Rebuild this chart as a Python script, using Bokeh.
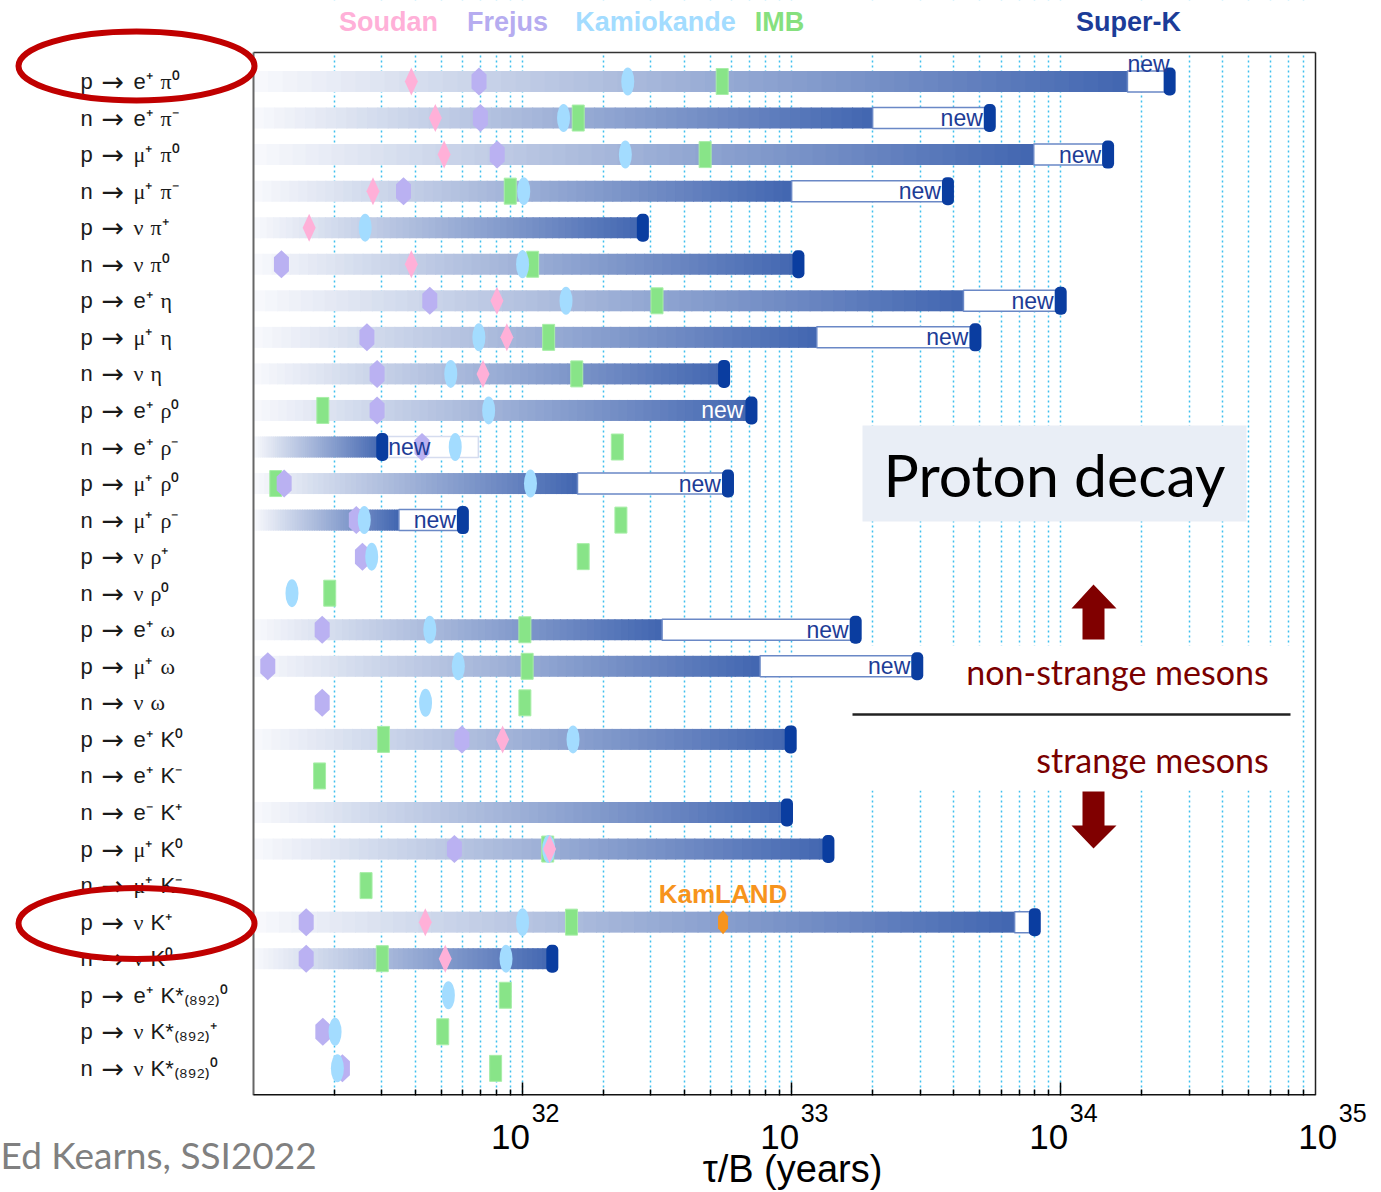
import math
import numpy as np
from bokeh.plotting import figure
from bokeh.models import Range1d, FixedTicker, LogAxis
from bokeh.core.properties import value
from bokeh.embed import file_html
from bokeh.resources import INLINE

# ---------------- data (lifetime / branching ratio, years) ----------------
CHANNELS = [
    "p → e⁺ π⁰", "n → e⁺ π⁻", "p → μ⁺ π⁰", "n → μ⁺ π⁻", "p → ν π⁺", "n → ν π⁰",
    "p → e⁺ η", "p → μ⁺ η", "n → ν η", "p → e⁺ ρ⁰", "n → e⁺ ρ⁻", "p → μ⁺ ρ⁰",
    "n → μ⁺ ρ⁻", "p → ν ρ⁺", "n → ν ρ⁰", "p → e⁺ ω", "p → μ⁺ ω", "n → ν ω",
    "p → e⁺ K⁰", "n → e⁺ K⁻", "n → e⁻ K⁺", "p → μ⁺ K⁰", "n → μ⁺ K⁻", "p → ν K⁺",
    "n → ν K⁰", "p → e⁺ K*₍₈₉₂₎⁰", "p → ν K*₍₈₉₂₎⁺", "n → ν K*₍₈₉₂₎⁰",
]
SOUDAN = [3.86e31, 4.74e31, 5.11e31, 2.78e31, 1.61e31, 3.86e31, 8.03e31, 8.74e31, 7.13e31,
          None, None, None, None, None, None, None, None, None, 8.43e31, None, None,
          1.26e32, None, 4.35e31, 5.16e31, None, None, None]
FREJUS = [6.89e31, 6.97e31, 8.05e31, 3.61e31, None, 1.27e31, 4.52e31, 2.64e31, 2.88e31,
          2.88e31, 4.23e31, 1.30e31, 2.41e31, 2.54e31, None, 1.80e31, 1.13e31, 1.80e31,
          5.95e31, None, None, 5.58e31, None, 1.57e31, 1.57e31, None, 1.81e31, 2.14e31]
KAMIOKANDE = [2.46e32, 1.42e32, 2.41e32, 1.01e32, 2.60e31, 1.00e32, 1.45e32, 6.88e31, 5.41e31,
              7.48e31, 5.62e31, 1.07e32, 2.58e31, 2.75e31, 1.39e31, 4.52e31, 5.77e31, 4.36e31,
              1.54e32, None, None, 1.25e32, None, 1.00e32, 8.68e31, 5.30e31, 2.01e31, 2.05e31]
IMB = [5.52e32, 1.61e32, 4.77e32, 9.0e31, None, 1.09e32, 3.16e32, 1.25e32, 1.59e32,
       1.81e31, 2.25e32, 1.21e31, 2.32e32, 1.68e32, 1.92e31, 1.02e32, 1.04e32, 1.02e32,
       3.04e31, 1.76e31, None, 1.24e32, 2.62e31, 1.52e32, 3.01e31, 8.63e31, 5.05e31, 7.94e31]
SK_PREVIOUS = [1.77e34, 2.0e33, 7.94e33, 1.0e33, None, None, 4.35e33, 1.24e33, None,
               None, 6.85e31, 1.60e32, 3.47e31, None, None, 3.30e32, 7.63e32, None,
               None, None, None, None, None, 6.74e33, None, None, None, None]
SK_LIMIT = [2.54e34, 5.45e33, 1.50e34, 3.81e33, 2.80e32, 1.06e33, 1.0e34, 4.82e33, 5.61e32,
            7.09e32, 3.01e31, 5.80e32, 6.0e31, None, None, 1.73e33, 2.93e33, None,
            9.92e32, None, 9.61e32, 1.37e33, None, 8.01e33, 1.29e32, None, None, None]
KAMLAND_CHANNEL = "p → ν K⁺"
KAMLAND_LIMIT = 5.56e32

MAJOR_TICKS = [1e32, 1e33, 1e34]
LABEL_DECADES = [1e32, 1e33, 1e34, 1e35]
TICK_BASE = "10"
TICK_EXPONENTS = ["32", "33", "34", "35"]
X_TITLE = "τ/B (years)"
EXPERIMENTS = ["Soudan", "Frejus", "Kamiokande", "IMB", "Super-K"]
CREDIT = "Ed Kearns, SSI2022"

# ---------------- layout helpers (pixel -> data) ----------------
W, H = 1381, 1192
PL, PR, PT, PB = 253, 1315, 52, 1095          # drawn plot box
X_LEFT, X_RIGHT = 1e31, 8.85e34               # values at the box edges
ROW0, ROWPX = 81.0, 36.55
DEC = (PR - PL) / math.log10(X_RIGHT / X_LEFT)


def X(px):
    return float(10 ** (math.log10(X_LEFT) + (px - PL) / DEC))


def Y(py):
    return (py - ROW0) / ROWPX


def shift(v, dpx):
    return float(v * 10 ** (dpx / DEC))


p = figure(width=W, height=H, x_axis_type="log",
           x_range=Range1d(X(0), X(W)), y_range=Range1d(Y(PB), Y(0)),
           output_backend="svg", toolbar_location=None,
           min_border_left=0, min_border_right=0, min_border_top=0,
           min_border_bottom=H - PB)
p.background_fill_color = "white"
p.border_fill_color = "white"
p.outline_line_color = None
p.yaxis.visible = False
p.ygrid.visible = False

minor = [float(k * 10.0 ** d) for d in range(31, 35) for k in range(2, 10) if k * 10.0 ** d < X_RIGHT]

# axis 0: tick marks on the bottom edge
ax = p.xaxis[0]
ax.ticker = FixedTicker(ticks=MAJOR_TICKS, minor_ticks=minor)
ax.axis_line_color = None
ax.major_label_overrides = {t: " " for t in MAJOR_TICKS}
ax.major_label_text_font_size = "1px"
ax.major_label_text_alpha = 0
ax.major_label_standoff = 0
ax.major_tick_in = 13
ax.major_tick_out = 0
ax.minor_tick_in = 6
ax.minor_tick_out = 0
ax.major_tick_line_color = "black"
ax.minor_tick_line_color = "black"
ax.major_tick_line_width = 1.5
ax.minor_tick_line_width = 1.5


def label_axis(ticks, labels, font, size, color, standoff):
    a = LogAxis(ticker=FixedTicker(ticks=ticks, minor_ticks=[]),
                major_label_overrides={t: s for t, s in zip(ticks, labels)},
                major_tick_line_color=None, minor_tick_line_color=None,
                axis_line_color=None, major_tick_out=0, minor_tick_out=0,
                major_tick_in=0, minor_tick_in=0,
                major_label_standoff=standoff, major_label_text_font=font,
                major_label_text_font_size=size, major_label_text_color=color)
    p.add_layout(a, "below")
    return a


# exponents (superscripts), bases "10", axis title, credit line
label_axis([shift(d, 23) for d in LABEL_DECADES], TICK_EXPONENTS, "Liberation Sans", "25px", "black", 8)
label_axis([shift(d, -12) for d in LABEL_DECADES], [TICK_BASE] * 4, "Liberation Sans", "35px", "black", 0)
label_axis([X(792)], [X_TITLE], "Liberation Sans", "38px", "black", -4)
label_axis([X(158)], [CREDIT], "Lato", "37px", "#808080", -61)

g = p.xgrid[0]
g.ticker = FixedTicker(ticks=MAJOR_TICKS, minor_ticks=minor)
g.grid_line_color = "#3fc0ee"
g.grid_line_dash = "2 3"
g.grid_line_width = 1.5
g.minor_grid_line_color = "#3fc0ee"
g.minor_grid_line_dash = "2 3"
g.minor_grid_line_width = 1.5

# ---------------- background decorations ----------------
p.quad(left=[X(0)], right=[X(W)], top=[Y(0)], bottom=[Y(PT)], fill_color="white", line_color=None)
p.quad(left=[X(852)], right=[X(1292)], top=[Y(645)], bottom=[Y(790)],
       fill_color="white", line_color=None)
p.quad(left=[X(862)], right=[X(1246)], top=[Y(425)], bottom=[Y(521)],
       fill_color="#e9eef6", line_color=None)

# ---------------- Super-K gradient bars ----------------
HALF = 10.5 / ROWPX
NSEG = 60
C0 = np.array([249, 250, 253])
C1 = np.array([66, 102, 177])
sl, sr, st, sb, sc = [], [], [], [], []
for i, (lim, prev) in enumerate(zip(SK_LIMIT, SK_PREVIOUS)):
    if lim is None:
        continue
    end = lim if prev is None else min(lim, prev)
    edges = np.linspace(math.log10(X_LEFT), math.log10(end), NSEG + 1)
    for k in range(NSEG):
        t = (k + 0.5) / NSEG
        c = (C0 + (C1 - C0) * t).astype(int)
        sl.append(float(10 ** edges[k]))
        sr.append(float(10 ** (edges[k + 1] + (0.004 if k < NSEG - 1 else 0))))
        st.append(i - HALF)
        sb.append(i + HALF)
        sc.append("#%02x%02x%02x" % tuple(c))
p.quad(left=sl, right=sr, top=st, bottom=sb, fill_color=sc, line_color=None)

# boxes for the improved ("new") limits
bl, br, bt, bb, bc = [], [], [], [], []
for i, (lim, prev) in enumerate(zip(SK_LIMIT, SK_PREVIOUS)):
    if lim is None or prev is None:
        continue
    bl.append(min(lim, prev)); br.append(max(lim, prev))
    bt.append(i - HALF); bb.append(i + HALF)
    bc.append("#d5dcef" if prev > lim else "#6a88c6")
p.quad(left=bl, right=br, top=bt, bottom=bb, fill_color="white", line_color=bc, line_width=1.5)

# ---------------- markers ----------------
def poly(vals, verts):
    xs, ys = [], []
    for i, v in enumerate(vals):
        if v is None:
            continue
        xs.append([shift(v, dx) for dx, dy in verts])
        ys.append([i + dy / ROWPX for dx, dy in verts])
    return xs, ys


def pts(vals):
    idx = [i for i, v in enumerate(vals) if v is not None]
    return [vals[i] for i in idx], idx


x, y = pts(IMB)
p.rect(x=x, y=y, width=12, height=26, width_units="screen", height_units="screen",
       fill_color="#88e488", line_color="#a8eea8", line_width=1)

HEX = [(0, -14), (7.5, -7), (7.5, 7), (0, 14), (-7.5, 7), (-7.5, -7)]
xs, ys = poly(FREJUS, HEX)
p.patches(xs=xs, ys=ys, fill_color="#bab1f2", line_color=None)

x, y = pts(KAMIOKANDE)
p.ellipse(x=x, y=y, width=13, height=28, width_units="screen", height_units="screen",
          fill_color="#a3dcff", line_color=None)

DIA = [(0, -14), (6.5, 0), (0, 14), (-6.5, 0)]
xs, ys = poly(SOUDAN, DIA)
p.patches(xs=xs, ys=ys, fill_color="#ffb0d8", line_color=None)

kl_row = CHANNELS.index(KAMLAND_CHANNEL)
KHEX = [(0, -12), (5, -6), (5, 6), (0, 12), (-5, 6), (-5, -6)]
kxs, kys = poly([KAMLAND_LIMIT if i == kl_row else None for i in range(len(CHANNELS))], KHEX)
p.patches(xs=kxs, ys=kys, fill_color="#f7941d", line_color=None)
p.text(x=[KAMLAND_LIMIT], y=[kl_row], text=["KamLAND"], text_font=value("Liberation Sans"),
       text_font_style="bold", text_font_size="26px", text_color="#f7941d",
       text_align="center", text_baseline="middle", y_offset=-28)

# Super-K caps
x, y = pts(SK_LIMIT)
p.rect(x=x, y=y, width=12, height=28, width_units="screen", height_units="screen",
       fill_color="#0a3da0", line_color=None, border_radius=5)

NEW_STYLE = {0: "above", 1: "in", 2: "in", 3: "in", 6: "in", 7: "in", 9: "onbar",
             10: "after", 11: "in", 12: "in", 15: "in", 16: "in"}
for i, style in NEW_STYLE.items():
    lim, prev = SK_LIMIT[i], SK_PREVIOUS[i]
    kw = dict(text=["new"], text_font=value("Liberation Sans"), text_font_size="23px",
              text_baseline="middle", text_color="#1d3c96")
    if style == "above":
        p.text(x=[math.sqrt(lim * prev)], y=[i], text_align="center", y_offset=-18, **kw)
    elif style == "in":
        p.text(x=[lim], y=[i], text_align="right", x_offset=-7, **kw)
    elif style == "onbar":
        kw["text_color"] = "white"
        p.text(x=[lim], y=[i], text_align="right", x_offset=-8, **kw)
    elif style == "after":
        p.text(x=[lim], y=[i], text_align="left", x_offset=6, **kw)

# ---------------- annotation texts ----------------
p.text(x=[X(1054)], y=[Y(474)], text=["Proton decay"], text_font=value("Lato"),
       text_font_size="59px", text_color="black", text_align="center", text_baseline="middle")
p.text(x=[X(1117)], y=[Y(671)], text=["non-strange mesons"], text_font=value("Lato"),
       text_font_size="34px", text_color="#7a0000", text_align="center", text_baseline="middle")
p.text(x=[X(1152)], y=[Y(759)], text=["strange mesons"], text_font=value("Lato"),
       text_font_size="34px", text_color="#7a0000", text_align="center", text_baseline="middle")
p.line(x=[X(852), X(1290)], y=[Y(714), Y(714)], line_color="#222222", line_width=2.5)

UP = [(1093, 584), (1116, 608), (1104, 608), (1104, 639), (1082, 639), (1082, 608), (1071, 608)]
DN = [(1093, 848), (1116, 825), (1104, 825), (1104, 791), (1082, 791), (1082, 825), (1071, 825)]
p.patches(xs=[[X(a) for a, b in UP], [X(a) for a, b in DN]],
          ys=[[Y(b) for a, b in UP], [Y(b) for a, b in DN]],
          fill_color="#800000", line_color=None)

# plot box
p.multi_line(xs=[[X(PL), X(PR)], [X(PL), X(PL)], [X(PR), X(PR)], [X(PL), X(PR)]],
             ys=[[Y(PT), Y(PT)], [Y(PT), Y(PB)], [Y(PT), Y(PB)], [Y(PB - 0.5), Y(PB - 0.5)]],
             line_color=["#333333", "#666666", "#222222", "#111111"], line_width=[1.5, 2, 1.5, 2])

# channel labels: nucleon, arrow, lepton, meson (greek symbols in a serif face)
GREEK = "πηρωμν"
nx, ny, nt, nf = [], [], [], []
for i, ch in enumerate(CHANNELS):
    nucleon, arrow, lepton, meson = ch.split(" ")
    meson_px = 160 if len(lepton) > 1 else 150
    for txt, px in ((nucleon, 80), (lepton, 133), (meson, meson_px)):
        nx.append(X(px)); ny.append(i); nt.append(txt)
        nf.append("Liberation Serif" if txt[0] in GREEK else "Liberation Sans")
p.text(x=nx, y=ny, text=nt, text_font=nf, text_font_size="22px", text_color="#1a1a1a",
       text_align="left", text_baseline="middle")
p.text(x=[X(101)] * len(CHANNELS), y=list(range(len(CHANNELS))),
       text=[ch.split(" ")[1] for ch in CHANNELS], text_font=value("DejaVu Sans"),
       text_font_size="27px", text_color="#1a1a1a", text_align="left", text_baseline="middle")

# experiment legend
LEG_X = [388, 507, 655, 779, 1128]
LEG_C = ["#ffb0d8", "#b6acf0", "#a3dcff", "#86e07e", "#1b3c98"]
p.text(x=[X(v) for v in LEG_X], y=[Y(21)] * len(EXPERIMENTS), text=EXPERIMENTS,
       text_font=value("Liberation Sans"), text_font_style="bold", text_font_size="27px",
       text_color=LEG_C, text_align="center", text_baseline="middle")

# red highlight ellipses
p.ellipse(x=[X(136), X(136)], y=[Y(65.5), Y(923)], width=[236, 236], height=[69, 71],
          width_units="screen", height_units="screen",
          fill_color=None, line_color="#c00000", line_width=6)

open("out.html", "w").write(file_html(p, INLINE))
